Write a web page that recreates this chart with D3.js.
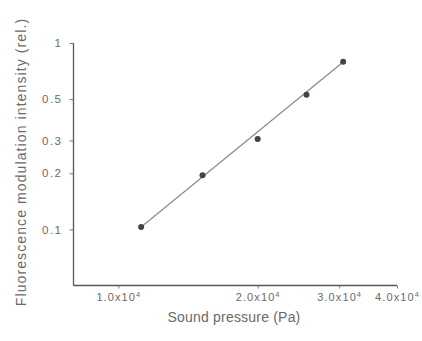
<!DOCTYPE html>
<html><head><meta charset="utf-8">
<script src="https://cdn.jsdelivr.net/npm/d3@7"></script>
<style>
body{margin:0;background:#fff;}
text{font-family:"Liberation Sans",Arial,sans-serif;fill:#6a6a6a;}
</style></head><body>
<svg id="c" width="422" height="341"></svg>
<script>
const pressure = [11200, 15200, 20000, 25500, 30600];
const intensity = [0.103, 0.195, 0.305, 0.527, 0.794];
const fitX = [11200, 30600];
const fitY = [0.103, 0.79];
const xTicks = [10000, 20000, 30000, 40000];
const xTickMant = ["1.0", "2.0", "3.0", "4.0"];
const yTicks = [0.1, 0.2, 0.3, 0.5, 1];
const yTickLabels = ["0.1", "0.2", "0.3", "0.5", "1"];

const svg = d3.select("#c");
const x = d3.scaleLog().domain([8000, 40000]).range([73.5, 397]);
const y = d3.scaleLog().domain([0.05, 1]).range([285.5, 43]);

// axes
const xAxis = d3.axisBottom(x).tickValues(xTicks).tickSize(3).tickFormat(() => "");
const gx = svg.append("g").attr("transform", "translate(0,285.5)").call(xAxis);
gx.select(".domain").attr("stroke", "#555").attr("stroke-width", 1.3).attr("d", `M${x.range()[0]},0H${x.range()[1]}`);
gx.selectAll(".tick line").attr("stroke", "#777");

gx.selectAll(".tick").each(function(d, i) {
  const t = d3.select(this).append("text").attr("y", 15).attr("text-anchor", "middle")
    .style("font-size", "11px").style("letter-spacing", "1.1px").attr("fill", "#6a6a6a");
  t.append("tspan").text(xTickMant[i] + "x10");
  t.append("tspan").attr("dy", -4).style("font-size", "7.5px").text("4");
});

const yAxis = d3.axisLeft(y).tickValues(yTicks).tickSize(4).tickPadding(7)
  .tickFormat((d, i) => yTickLabels[i]);
const gy = svg.append("g").attr("transform", "translate(73.5,0)").call(yAxis);
gy.select(".domain").attr("stroke", "#555").attr("stroke-width", 1.3).attr("d", `M0,${y.range()[1]}V${y.range()[0]}`);
gy.selectAll(".tick line").attr("stroke", "#777");
gy.selectAll(".tick text").style("font-size", "11.5px").style("letter-spacing", "1.5px")
  .attr("fill", "#6a6a6a").style("font-family", "Liberation Sans, Arial, sans-serif");

// fit line
const line = d3.line().x(d => x(d[0])).y(d => y(d[1]));
svg.append("path").datum(fitX.map((v, i) => [v, fitY[i]]))
  .attr("d", line).attr("stroke", "#8a8a8a").attr("stroke-width", 1.2).attr("fill", "none");

// points
svg.selectAll("circle.pt").data(pressure).enter().append("circle")
  .attr("cx", d => x(d)).attr("cy", (d, i) => y(intensity[i])).attr("r", 3)
  .attr("fill", "#444");

// titles
svg.append("text").attr("x", 234).attr("y", 322).attr("text-anchor", "middle")
  .style("font-size", "14px").style("letter-spacing", "0.2px").text("Sound pressure (Pa)");
svg.append("text").attr("transform", "translate(26,162) rotate(-90)").attr("text-anchor", "middle")
  .style("font-size", "14px").style("letter-spacing", "1.1px").text("Fluorescence modulation intensity (rel.)");
</script>
</body></html>
